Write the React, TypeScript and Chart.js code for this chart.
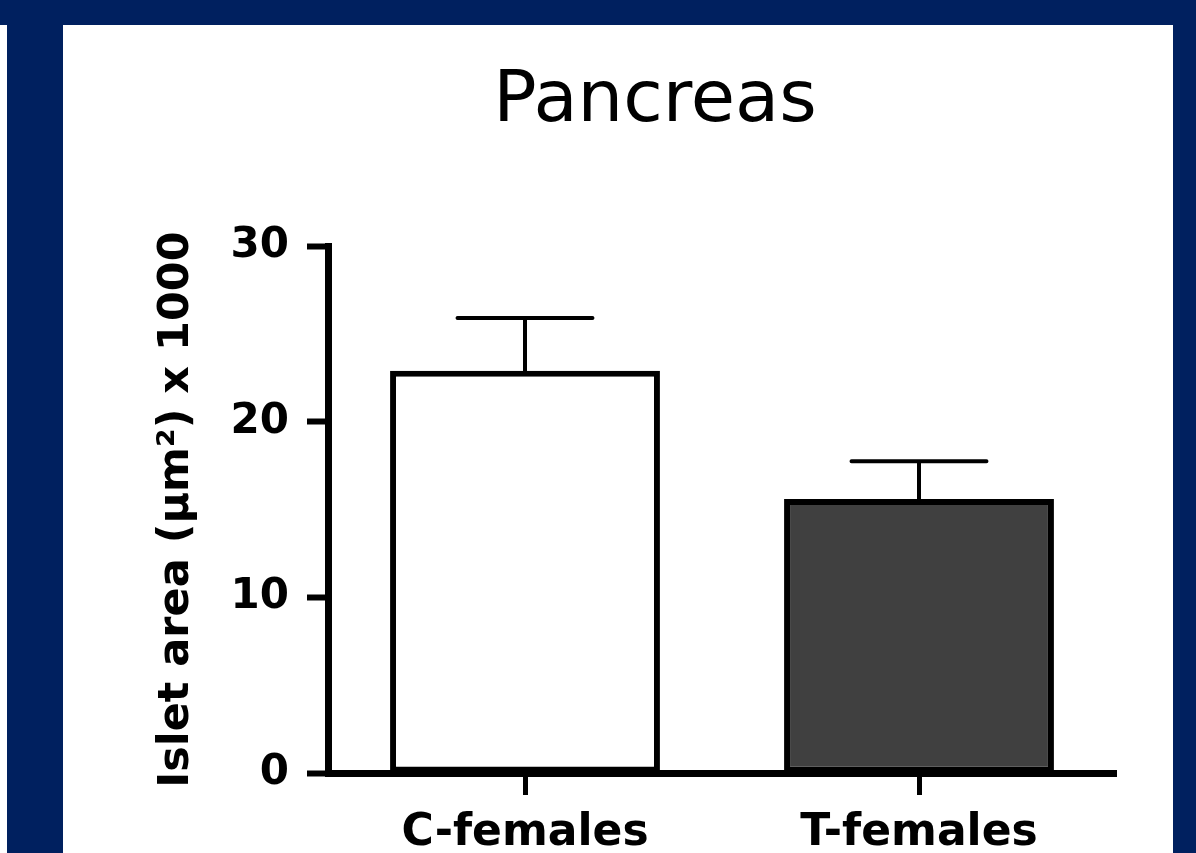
import React, { useEffect, useRef } from "react";
import { Chart, registerables } from "chart.js";

Chart.register(...registerables);

const categories = ["C-females", "T-females"];
const means = [22.9, 15.6];
const errors = [3.0, 2.15];
const barFills = ["#ffffff", "#404040"];
const yTicks = [0, 10, 20, 30];
const chartTitle = "Pancreas";
const yTitle = "Islet area (µm²) x 1000";

const errorBarPlugin = {
  id: "errorBars",
  afterDatasetsDraw(chart: any) {
    const ctx = chart.ctx;
    const meta = chart.getDatasetMeta(0);
    const yScale = chart.scales.y;
    ctx.save();
    ctx.strokeStyle = "#000";
    ctx.lineWidth = 4;
    ctx.lineCap = "round";
    meta.data.forEach((bar: any, i: number) => {
      const x = bar.x;
      const yBase = yScale.getPixelForValue(means[i]);
      const yTop = yScale.getPixelForValue(means[i] + errors[i]);
      const half = bar.width / 4;
      ctx.beginPath();
      ctx.moveTo(x, yBase);
      ctx.lineTo(x, yTop);
      ctx.moveTo(x - half, yTop);
      ctx.lineTo(x + half, yTop);
      ctx.stroke();
    });
    ctx.restore();
  },
};

const titlePlugin = {
  id: "customTitle",
  afterDraw(chart: any) {
    const ctx = chart.ctx;
    ctx.save();
    ctx.fillStyle = "#000";
    ctx.font = "normal 72px 'DejaVu Sans'";
    ctx.textAlign = "center";
    ctx.textBaseline = "alphabetic";
    ctx.fillText(chartTitle, 592, 96);
    ctx.restore();
  },
};

export default function App() {
  const ref = useRef<HTMLCanvasElement>(null);
  useEffect(() => {
    if (!ref.current) return;
    const chart = new Chart(ref.current, {
      type: "bar",
      data: {
        labels: categories,
        datasets: [
          {
            data: means,
            backgroundColor: barFills,
            borderColor: "#000",
            borderWidth: 6,
            borderSkipped: false,
            barPercentage: 0.685,
            categoryPercentage: 1,
          },
        ],
      },
      options: {
        responsive: false,
        animation: false,
        devicePixelRatio: 1,
        layout: { padding: { left: 0, right: 57, top: 221, bottom: 0 } },
        plugins: {
          legend: { display: false },
          tooltip: { enabled: false },
          title: { display: false },
        },
        scales: {
          x: {
            type: "category",
            offset: true,
            afterFit: (s: any) => {
              s.height = 80;
            },
            grid: {
              display: true,
              drawOnChartArea: false,
              drawTicks: true,
              tickLength: 22,
              tickWidth: 5,
              color: "#000",
              offset: false,
            },
            border: { display: true, color: "#000", width: 7, z: 1 },
            ticks: {
              color: "#000",
              padding: 12,
              font: { family: "'DejaVu Sans'", size: 44, weight: "bold" },
            },
          },
          y: {
            min: 0,
            max: 30,
            afterFit: (s: any) => {
              s.width = 265;
            },
            afterBuildTicks: (s: any) => {
              s.ticks = yTicks.map((v) => ({ value: v }));
            },
            grid: {
              display: true,
              drawOnChartArea: false,
              drawTicks: true,
              tickLength: 21,
              tickWidth: 6,
              color: "#000",
            },
            border: { display: true, color: "#000", width: 7, z: 1 },
            ticks: {
              color: "#000",
              padding: 18,
              font: { family: "'DejaVu Sans'", size: 42, weight: "bold" },
            },
            title: {
              display: true,
              text: yTitle,
              color: "#000",
              padding: { top: 88, bottom: 0 },
              font: { family: "'DejaVu Sans'", size: 43, weight: "bold" },
            },
          },
        },
      },
      plugins: [errorBarPlugin, titlePlugin],
    });
    return () => chart.destroy();
  }, []);

  return (
    <div
      style={{
        position: "fixed",
        left: 0,
        top: 0,
        width: 1196,
        height: 853,
        background: "#00205f",
        overflow: "hidden",
      }}
    >
      <div
        style={{
          position: "absolute",
          left: 0,
          top: 25,
          width: 7,
          height: 828,
          background: "#ffffff",
        }}
      />
      <div
        style={{
          position: "absolute",
          left: 63,
          top: 25,
          width: 1110,
          height: 828,
          background: "#ffffff",
        }}
      >
        <canvas ref={ref} width={1110} height={828} style={{ display: "block" }} />
      </div>
    </div>
  );
}
